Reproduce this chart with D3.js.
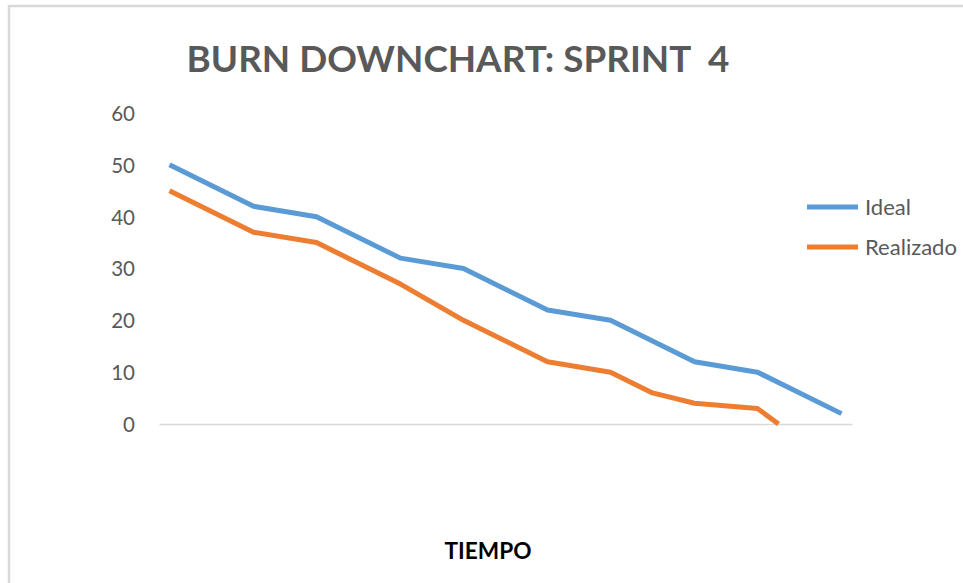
<!DOCTYPE html>
<html>
<head>
<meta charset="utf-8">
<script src="https://cdn.jsdelivr.net/npm/d3@7"></script>
<style>
  html, body { margin: 0; padding: 0; background: #fff; }
  svg { display: block; }
  text { font-family: Lato, "Open Sans", "Liberation Sans", sans-serif; }
</style>
</head>
<body>
<svg id="chart" width="963" height="583"></svg>
<script>
// Sprint days on which a measurement was taken
const days = [0, 4, 7, 11, 14, 18, 21, 23, 25, 28, 29, 32];
// Remaining work per series (null = no value on that day)
const ideal = [50, 42, 40, 32, 30, 22, 20, null, 12, 10, null, 2];
const realizado = [45, 37, 35, 27, 20, 12, 10, 6, 4, 3, 0, null];
const yTicks = [0, 10, 20, 30, 40, 50, 60];
const seriesNames = ["Ideal", "Realizado"];
const seriesColors = ["#5b9bd5", "#ed7d31"];

const svg = d3.select("#chart");

// Scale a text element's font so it spans the given width
function fitWidth(sel, base, width) {
  sel.attr("font-size", base);
  const w = sel.node().getComputedTextLength();
  sel.attr("font-size", base * width / w);
  return base * width / w;
}

// Chart area frame
svg.append("rect")
  .attr("x", 9).attr("y", 6)
  .attr("width", 1000).attr("height", 640)
  .attr("fill", "#fff")
  .attr("stroke", "#d9d9d9").attr("stroke-width", 2.5);

const x = d3.scaleLinear().domain([-0.5, 32.5]).range([159, 852]);
const y = d3.scaleLinear().domain([0, 60]).range([424, 113]);

// Title
const title = svg.append("text")
  .attr("x", 458).attr("y", 72)
  .attr("text-anchor", "middle")
  .attr("font-weight", "bold")
  .attr("fill", "#595959")
  .attr("xml:space", "preserve")
  .style("white-space", "pre")
  .text("BURN DOWNCHART: SPRINT  4");
fitWidth(title, 38, 543);

// Y axis labels (no axis line)
const yAxis = d3.axisLeft(y).tickValues(yTicks).tickSize(0).tickPadding(0);
const yg = svg.append("g").attr("transform", "translate(135,0)").call(yAxis);
yg.select(".domain").remove();
yg.selectAll("text")
  .attr("font-family", "Lato, 'Open Sans', sans-serif")
  .attr("font-size", 20.5)
  .attr("fill", "#595959")
  .attr("dy", "0.36em");

// Baseline at zero
const xAxis = d3.axisBottom(x).tickValues([]).tickSize(0);
const xg = svg.append("g").attr("transform", `translate(0,${y(0)})`).call(xAxis);
xg.select(".domain").attr("stroke", "#d9d9d9").attr("stroke-width", 1.5);

// Series lines
const line = d3.line().x(d => x(d[0])).y(d => y(d[1]));
[ideal, realizado].forEach((vals, i) => {
  const pts = days.map((d, j) => [d, vals[j]]).filter(p => p[1] !== null);
  svg.append("path")
    .datum(pts)
    .attr("d", line)
    .attr("fill", "none")
    .attr("stroke", seriesColors[i])
    .attr("stroke-width", 5)
    .attr("stroke-linejoin", "round");
});

// Legend
const lg = svg.append("g");
const labels = [];
seriesNames.forEach((name, i) => {
  const ly = 207 + i * 40;
  lg.append("line")
    .attr("x1", 807).attr("x2", 858)
    .attr("y1", ly).attr("y2", ly)
    .attr("stroke", seriesColors[i]).attr("stroke-width", 5);
  labels.push(lg.append("text")
    .attr("x", 865).attr("y", ly)
    .attr("dy", "0.36em")
    .attr("fill", "#595959")
    .text(name));
});
const lfs = fitWidth(labels[1], 18, 92);
labels[0].attr("font-size", lfs);

// X axis title
const xt = svg.append("text")
  .attr("x", 488).attr("y", 559)
  .attr("text-anchor", "middle")
  .attr("font-weight", "bold")
  .attr("fill", "#000")
  .text("TIEMPO");
fitWidth(xt, 17, 87);
</script>
</body>
</html>
